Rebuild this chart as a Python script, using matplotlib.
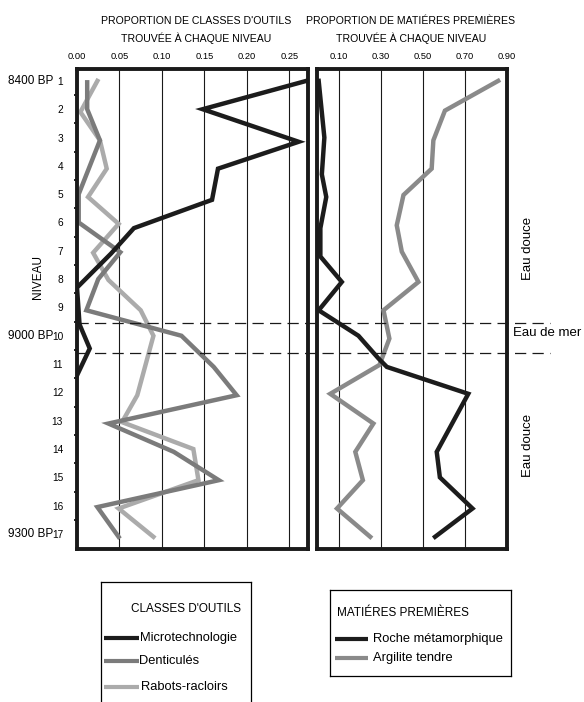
import matplotlib
matplotlib.use("Agg")
import matplotlib.pyplot as plt
import matplotlib.transforms as mtransforms
from matplotlib.lines import Line2D
import numpy as np
from matplotlib import font_manager

# quelle police étroite est dispo ?
names = sorted(set(f.name for f in font_manager.fontManager.ttflist))
narrow = 'Liberation Sans Narrow' if 'Liberation Sans Narrow' in names else 'Liberation Sans'
plt.rcParams['font.family'] = [narrow, 'DejaVu Sans']

# niveaux (axe vertical)
levels = list(range(1, 18))

# classes d'outils
micro_lvl = [1, 2, 3.15, 4.1, 5.2, 6.2, 7.1, 8.3, 9.6, 10.45, 11.4]
micro_val = [0.270, 0.148, 0.261, 0.166, 0.159, 0.067, 0.040, 0.0, 0.003, 0.015, 0.0]

dent_lvl = [1.05, 2, 3.1, 5.0, 6.0, 7.05, 8, 9.1, 10.0, 11.1, 12.1, 13.1, 14.1, 15.1, 16.05, 17.1]
dent_val = [0.012, 0.012, 0.027, 0.002, 0.002, 0.051, 0.025, 0.011, 0.123, 0.161, 0.188, 0.037, 0.114, 0.167, 0.024, 0.049]

rabot_lvl = [1, 2.1, 3.1, 4.1, 5.1, 6.05, 7.07, 8.03, 9.1, 10.0, 12.1, 13.05, 14.0, 15.1, 16.1, 17.1]
rabot_val = [0.024, 0.004, 0.027, 0.035, 0.013, 0.049, 0.019, 0.037, 0.075, 0.090, 0.071, 0.053, 0.137, 0.143, 0.049, 0.090]

# matières premières
roche_lvl = [1, 3, 4.3, 5.1, 6.2, 7.2, 8.1, 9.1, 10.0, 10.8, 11.1, 12.05, 14.1, 15.0, 16.1, 17.1]
roche_val = [0.005, 0.032, 0.020, 0.041, 0.013, 0.013, 0.115, 0.005, 0.194, 0.289, 0.329, 0.716, 0.566, 0.581, 0.736, 0.558]

argil_lvl = [1, 2.05, 3.1, 4.1, 5.03, 6.1, 7.03, 8.1, 9.1, 10.1, 11.03, 12.05, 13.1, 14.1, 15.1, 16.1, 17.1]
argil_val = [0.858, 0.605, 0.550, 0.542, 0.408, 0.376, 0.400, 0.479, 0.313, 0.341, 0.294, 0.060, 0.265, 0.179, 0.215, 0.092, 0.250]

ticks_outils = [0.00, 0.05, 0.10, 0.15, 0.20, 0.25]
ticks_mat = [0.10, 0.30, 0.50, 0.70, 0.90]

W, H = 584, 702
fig = plt.figure(figsize=(W / 100, H / 100), dpi=100)

def box(x0, y0, x1, y1):
    return [x0 / W, 1 - y1 / H, (x1 - x0) / W, (y1 - y0) / H]

ax1 = fig.add_axes(box(77, 69, 308, 549))
ax2 = fig.add_axes(box(317, 69, 507, 549))

c_black = '#1c1c1c'
c_dent = '#7b7b7b'
c_rabot = '#ababab'
c_argil = '#8a8a8a'
lw = 3.2

ax1.plot(rabot_val, rabot_lvl, color=c_rabot, lw=lw, solid_joinstyle='miter')
ax1.plot(dent_val, dent_lvl, color=c_dent, lw=lw, solid_joinstyle='miter')
ax1.plot(micro_val, micro_lvl, color=c_black, lw=lw, solid_joinstyle='miter')

ax2.plot(argil_val, argil_lvl, color=c_argil, lw=lw, solid_joinstyle='miter')
ax2.plot(roche_val, roche_lvl, color=c_black, lw=lw, solid_joinstyle='miter')

ax1.set_xlim(0, 0.272)
ax2.set_xlim(-0.003, 0.90)
for ax in (ax1, ax2):
    ax.set_ylim(17.53, 0.58)
    ax.set_facecolor('none')
    for s in ax.spines.values():
        s.set_linewidth(2.8)
        s.set_color('#1a1a1a')
    ax.xaxis.tick_top()
    ax.tick_params(axis='x', length=0, pad=6, labelsize=6.7)

for t in ticks_outils[1:]:
    ax1.axvline(t, color='#1a1a1a', lw=0.8, zorder=0)
for t in ticks_mat[:-1]:
    ax2.axvline(t, color='#1a1a1a', lw=0.8, zorder=0)

ax1.set_xticks(ticks_outils)
ax1.set_xticklabels(['%.2f' % t for t in ticks_outils])
ax2.set_xticks(ticks_mat)
ax2.set_xticklabels(['%.2f' % t for t in ticks_mat])

ax1.set_yticks(levels)
ax1.set_yticklabels([str(l) for l in levels])
ax1.set_yticks(np.arange(1.5, 17.5, 1.0), minor=True)
ax1.tick_params(axis='y', which='major', length=0, pad=10, labelsize=7.3)
ax1.tick_params(axis='y', which='minor', length=2.5, width=1.2, direction='out')
ax2.set_yticks([])

# titres
fig.text(196 / W, 1 - 21 / H, "PROPORTION DE CLASSES D'OUTILS", ha='center', va='center', fontsize=7.6)
fig.text(196 / W, 1 - 38 / H, "TROUVÉE À CHAQUE NIVEAU", ha='center', va='center', fontsize=7.6)
fig.text(411 / W, 1 - 21 / H, "PROPORTION DE MATIÉRES PREMIÈRES", ha='center', va='center', fontsize=7.6)
fig.text(411 / W, 1 - 38 / H, "TROUVÉE À CHAQUE NIVEAU", ha='center', va='center', fontsize=7.6)

# dates BP
for lab, lv in [('8400 BP', 1), ('9000 BP', 10), ('9300 BP', 17)]:
    y = ax1.transData.transform((0, lv))[1] / H
    fig.text(53 / W, y, lab, ha='right', va='center', fontsize=8.5)

fig.text(38 / W, 1 - 277 / H, 'NIVEAU', rotation=90, ha='center', va='center', fontsize=8.5)

# limites eau de mer
tr = mtransforms.blended_transform_factory(fig.transFigure, ax1.transData)
for lv in [9.55, 10.6]:
    fig.add_artist(Line2D([77 / W, 550 / W], [lv, lv], transform=tr, color='#1a1a1a',
                          lw=0.9, linestyle=(0, (9, 5))))

fig.text(528 / W, 1 - 248 / H, 'Eau douce', rotation=90, ha='center', va='center', fontsize=9.5, family='Liberation Sans')
fig.text(547 / W, 1 - 333 / H, 'Eau de mer', ha='center', va='center', fontsize=9.5, family='Liberation Sans')
fig.text(528 / W, 1 - 445 / H, 'Eau douce', rotation=90, ha='center', va='center', fontsize=9.5, family='Liberation Sans')

# légendes faites à la main
lax1 = fig.add_axes(box(101, 582, 251, 710))
lax2 = fig.add_axes(box(330, 590, 511, 676))
for lax in (lax1, lax2):
    lax.set_xlim(0, 1)
    lax.set_ylim(1, 0)
    lax.set_xticks([])
    lax.set_yticks([])
    for s in lax.spines.values():
        s.set_linewidth(0.9)

def lpos(lax, x, y):
    b = lax.get_position()
    return ((x / W - b.x0) / b.width, ((1 - y / H) - b.y1) / -b.height)

def legline(lax, x0, x1, y, color, text, tx):
    (a0, yy), (a1, _) = lpos(lax, x0, y), lpos(lax, x1, y)
    lax.plot([a0, a1], [yy, yy], color=color, lw=3, solid_capstyle='butt')
    ax_, ay = lpos(lax, tx, y)
    lax.text(ax_, ay, text, ha='left', va='center', fontsize=9.3)

tx, ty = lpos(lax1, 186, 609)
lax1.text(tx, ty, "CLASSES D'OUTILS", ha='center', va='center', fontsize=8.5)
legline(lax1, 104, 139, 638, c_black, 'Microtechnologie', 140)
legline(lax1, 104, 139, 661, c_dent, 'Denticulés', 139)
legline(lax1, 104, 139, 687, c_rabot, 'Rabots-racloirs', 141)

tx, ty = lpos(lax2, 337, 613)
lax2.text(tx, ty, 'MATIÉRES PREMIÈRES', ha='left', va='center', fontsize=8.5)
legline(lax2, 335, 368, 639, c_black, 'Roche métamorphique', 373)
legline(lax2, 335, 368, 658, c_argil, 'Argilite tendre', 373)

fig.savefig('out.png', dpi=100)
